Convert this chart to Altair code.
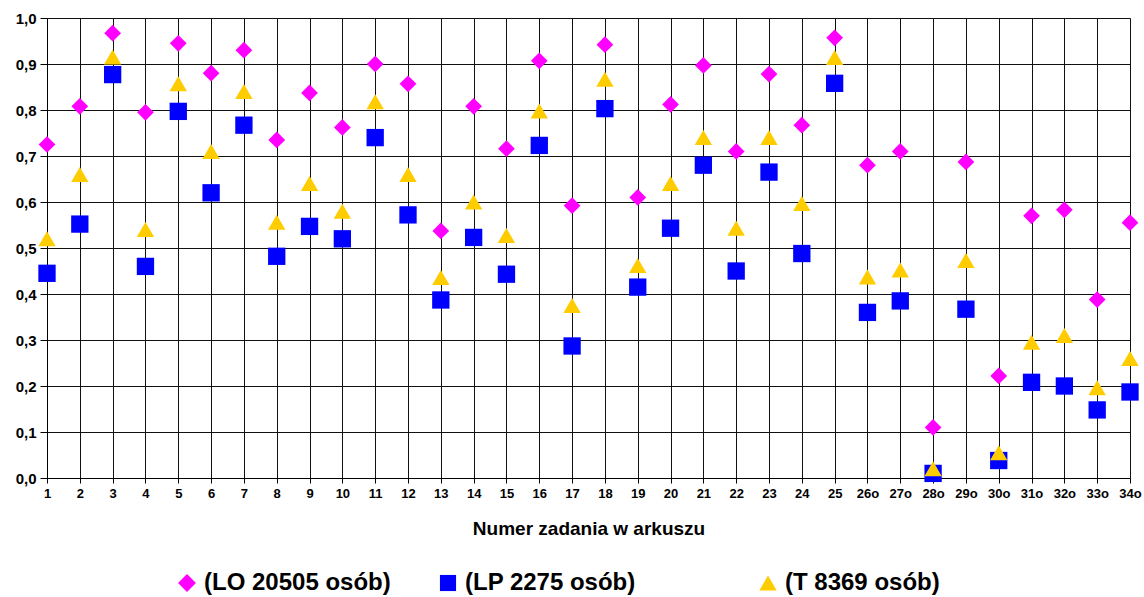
import altair as alt
import pandas as pd

cats = [str(i) for i in range(1, 26)] + ["26o", "27o", "28o", "29o", "30o", "31o", "32o", "33o", "34o"]

lo = [0.725, 0.808, 0.967, 0.795, 0.945, 0.880, 0.930, 0.735, 0.837, 0.762,
      0.900, 0.857, 0.537, 0.808, 0.716, 0.907, 0.592, 0.942, 0.610, 0.812,
      0.897, 0.710, 0.878, 0.767, 0.957, 0.680, 0.710, 0.110, 0.687, 0.222,
      0.570, 0.583, 0.388, 0.555]

lp = [0.445, 0.552, 0.877, 0.460, 0.797, 0.620, 0.767, 0.482, 0.547, 0.520,
      0.740, 0.572, 0.387, 0.523, 0.443, 0.723, 0.287, 0.803, 0.415, 0.543,
      0.680, 0.450, 0.665, 0.488, 0.858, 0.360, 0.385, 0.010, 0.367, 0.038,
      0.208, 0.200, 0.148, 0.187]

t = [0.520, 0.660, 0.915, 0.540, 0.857, 0.710, 0.840, 0.556, 0.640, 0.580,
     0.818, 0.660, 0.436, 0.600, 0.527, 0.798, 0.375, 0.867, 0.462, 0.640,
     0.740, 0.543, 0.740, 0.597, 0.914, 0.437, 0.452, 0.020, 0.473, 0.055,
     0.295, 0.310, 0.196, 0.260]

series_names = ["(LO 20505 osób)", "(LP 2275 osób)", "(T 8369 osób)"]
series_colors = ["#FF00FF", "#0000FF", "#FFCC00"]
series_shapes = ["diamond", "square", "triangle-up"]
y_ticks = [0.0, 0.1, 0.2, 0.3, 0.4, 0.5, 0.6, 0.7, 0.8, 0.9, 1.0]

FONT = "Liberation Sans"
W, H = 1083, 460

x_enc = alt.X(
    "zad:N", sort=cats,
    scale=alt.Scale(type="point", padding=0),
    axis=alt.Axis(
        title="Numer zadania w arkuszu", labelAngle=0, grid=True,
        labelFont=FONT, labelFontSize=13, labelFontWeight="bold", labelColor="#000",
        titleFont=FONT, titleFontSize=19, titleFontWeight="bold", titleColor="#000",
        titlePadding=19, labelPadding=4, tickSize=5, tickColor="#000",
        domainColor="#000", gridColor="#111", gridWidth=1,
    ),
)
y_enc = alt.Y(
    "v:Q",
    scale=alt.Scale(domain=[0, 1], nice=False, zero=True),
    axis=alt.Axis(
        title=None, values=y_ticks, grid=True,
        labelExpr="replace(format(datum.value, '.1f'), '.', ',')",
        labelFont=FONT, labelFontSize=15, labelFontWeight="bold", labelColor="#000",
        labelPadding=4, tickSize=7, tickColor="#000", domainColor="#000",
        gridColor="#111", gridWidth=1,
    ),
)

legend_x = [128, 389, 709]
sizes = [280, 300, 300]
legend_sizes = [320, 260, 300]

layers = []
for vals, name, col, shp, sz, lx, lsz in zip([lo, lp, t], series_names, series_colors,
                                          series_shapes, sizes, legend_x, legend_sizes):
    df = pd.DataFrame({"zad": cats, "v": vals, "s": [name] * len(cats)})
    layers.append(
        alt.Chart(df).mark_point(filled=True, opacity=1, shape=shp, size=sz).encode(
            x=x_enc,
            y=y_enc,
            color=alt.Color(
                "s:N",
                scale=alt.Scale(domain=[name], range=[col]),
                legend=alt.Legend(
                    title=None, orient="none", legendX=lx, legendY=553,
                    symbolType=shp, symbolSize=lsz, symbolStrokeWidth=0,
                    labelFont=FONT, labelFontSize=24, labelFontWeight="bold",
                    labelColor="#000", labelLimit=400, labelOffset=5, padding=0,
                ),
            ),
        )
    )

chart = alt.layer(*layers).resolve_scale(color="independent").properties(
    width=W, height=H,
    autosize=alt.AutoSizeParams(type="none"),
    padding={"left": 47, "top": 18, "right": 1144 - 47 - W, "bottom": 597 - 18 - H},
).configure_view(stroke="#999", strokeWidth=1).configure(background="white")

chart.save("out.html", embed_options={"renderer": "svg", "actions": False})
